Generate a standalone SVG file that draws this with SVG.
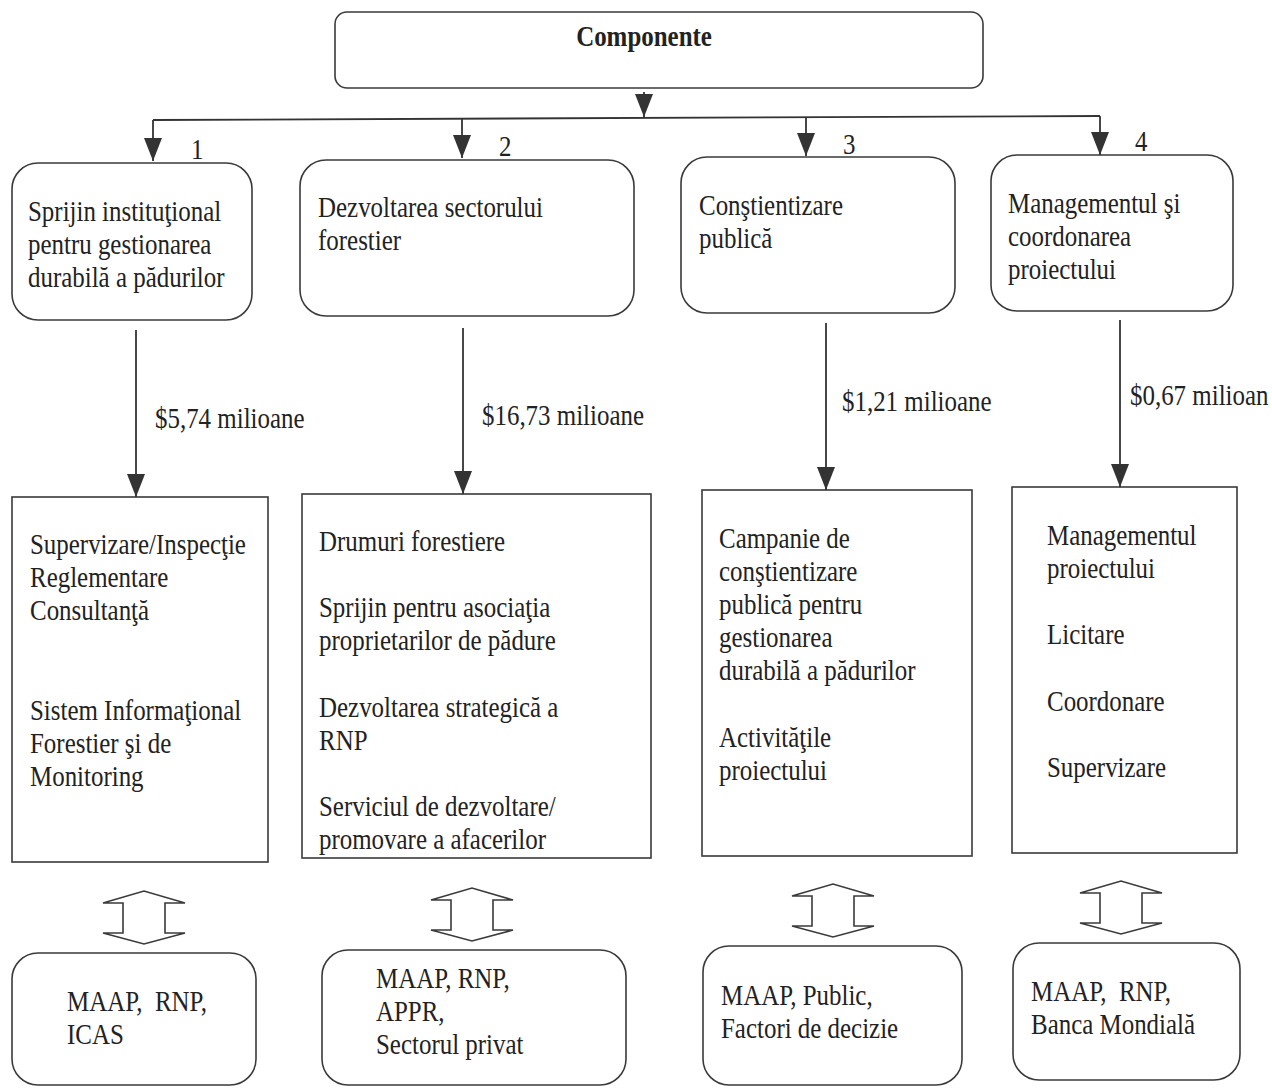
<svg xmlns="http://www.w3.org/2000/svg" xmlns:xlink="http://www.w3.org/1999/xlink" width="1272" height="1089" viewBox="0 0 1272 1089">
  <style>
    .box { fill: #ffffff; stroke: #3a3a3a; stroke-width: 1.6; }
    .ln { fill: none; stroke: #333333; stroke-width: 1.8; }
    .dbl { fill: #ffffff; stroke: #3a3a3a; stroke-width: 1.6; stroke-linejoin: miter; }
    .t { font-family: "Liberation Serif", "Times New Roman", serif; font-size: 29px; fill: #222222; }
    .b { font-weight: bold; }
  </style>
  <defs>
    <marker id="ah" markerUnits="userSpaceOnUse" markerWidth="23" markerHeight="18" refX="23" refY="9" orient="auto">
      <path d="M0,0 L23,9 L0,18 Z" fill="#333333"/>
    </marker>
    <!-- two-headed block arrow, apex at origin -->
    <path id="dbl" d="M-41,12 L0,0 L41,12 L21,12 L21,42 L41,42 L0,53 L-41,42 L-21,42 L-21,12 Z"/>
  </defs>
  <rect width="1272" height="1089" fill="#ffffff"/>

  <!-- root -->
  <g id="root">
    <rect class="box" x="335" y="12" width="648" height="76" rx="12"/>
    <text class="t b" text-anchor="middle" transform="translate(644 46) scale(.86 1)">Componente</text>
  </g>

  <!-- component headers -->
  <g id="comp1">
    <rect class="box" x="12" y="163" width="240" height="157" rx="26"/>
    <text class="t" transform="translate(28 221) scale(.86 1)"><tspan x="0" y="0">Sprijin instituţional</tspan><tspan x="0" y="33">pentru gestionarea</tspan><tspan x="0" y="66">durabilă a pădurilor</tspan></text>
  </g>
  <g id="comp2">
    <rect class="box" x="300" y="160" width="334" height="156" rx="26"/>
    <text class="t" transform="translate(318 217) scale(.86 1)"><tspan x="0" y="0">Dezvoltarea sectorului</tspan><tspan x="0" y="33">forestier</tspan></text>
  </g>
  <g id="comp3">
    <rect class="box" x="681" y="157" width="274" height="156" rx="26"/>
    <text class="t" transform="translate(699 215) scale(.86 1)"><tspan x="0" y="0">Conştientizare</tspan><tspan x="0" y="33">publică</tspan></text>
  </g>
  <g id="comp4">
    <rect class="box" x="991" y="155" width="242" height="156" rx="26"/>
    <text class="t" transform="translate(1008 213) scale(.86 1)"><tspan x="0" y="0">Managementul şi</tspan><tspan x="0" y="33">coordonarea</tspan><tspan x="0" y="66">proiectului</tspan></text>
  </g>

  <!-- activity boxes -->
  <g id="act1">
    <rect class="box" x="12" y="497" width="256" height="365"/>
    <text class="t" transform="translate(30 554) scale(.86 1)"><tspan x="0" y="0">Supervizare/Inspecţie</tspan><tspan x="0" y="33">Reglementare</tspan><tspan x="0" y="66">Consultanţă</tspan><tspan x="0" y="166">Sistem Informaţional</tspan><tspan x="0" y="199">Forestier şi de</tspan><tspan x="0" y="232">Monitoring</tspan></text>
  </g>
  <g id="act2">
    <rect class="box" x="302" y="494" width="349" height="364"/>
    <text class="t" transform="translate(319 551) scale(.86 1)"><tspan x="0" y="0">Drumuri forestiere</tspan><tspan x="0" y="66">Sprijin pentru asociaţia</tspan><tspan x="0" y="99">proprietarilor de pădure</tspan><tspan x="0" y="166">Dezvoltarea strategică a</tspan><tspan x="0" y="199">RNP</tspan><tspan x="0" y="265">Serviciul de dezvoltare/</tspan><tspan x="0" y="298">promovare a afacerilor</tspan></text>
  </g>
  <g id="act3">
    <rect class="box" x="702" y="490" width="270" height="366"/>
    <text class="t" transform="translate(719 548) scale(.86 1)"><tspan x="0" y="0">Campanie de</tspan><tspan x="0" y="33">conştientizare</tspan><tspan x="0" y="66">publică pentru</tspan><tspan x="0" y="99">gestionarea</tspan><tspan x="0" y="132">durabilă a pădurilor</tspan><tspan x="0" y="199">Activităţile</tspan><tspan x="0" y="232">proiectului</tspan></text>
  </g>
  <g id="act4">
    <rect class="box" x="1012" y="487" width="225" height="366"/>
    <text class="t" transform="translate(1047 545) scale(.86 1)"><tspan x="0" y="0">Managementul</tspan><tspan x="0" y="33">proiectului</tspan><tspan x="0" y="99">Licitare</tspan><tspan x="0" y="166">Coordonare</tspan><tspan x="0" y="232">Supervizare</tspan></text>
  </g>

  <!-- stakeholder boxes -->
  <g id="part1">
    <rect class="box" x="12" y="953" width="244" height="132" rx="26"/>
    <text class="t" xml:space="preserve" transform="translate(67 1011) scale(.86 1)"><tspan x="0" y="0">MAAP,  RNP,</tspan><tspan x="0" y="33">ICAS</tspan></text>
  </g>
  <g id="part2">
    <rect class="box" x="322" y="950" width="304" height="135" rx="26"/>
    <text class="t" transform="translate(376 988) scale(.86 1)"><tspan x="0" y="0">MAAP, RNP,</tspan><tspan x="0" y="33">APPR,</tspan><tspan x="0" y="66">Sectorul privat</tspan></text>
  </g>
  <g id="part3">
    <rect class="box" x="703" y="946" width="259" height="139" rx="26"/>
    <text class="t" transform="translate(721 1005) scale(.86 1)"><tspan x="0" y="0">MAAP, Public,</tspan><tspan x="0" y="33">Factori de decizie</tspan></text>
  </g>
  <g id="part4">
    <rect class="box" x="1013" y="943" width="227" height="137" rx="26"/>
    <text class="t" xml:space="preserve" transform="translate(1031 1001) scale(.86 1)"><tspan x="0" y="0">MAAP,  RNP,</tspan><tspan x="0" y="33">Banca Mondială</tspan></text>
  </g>

  <!-- connectors -->
  <g id="connectors">
    <line class="ln" x1="644" y1="92" x2="644" y2="117" marker-end="url(#ah)"/>
    <path class="ln" d="M153,120 L1100,116"/>
    <line class="ln" x1="153" y1="120" x2="153" y2="161" marker-end="url(#ah)"/>
    <line class="ln" x1="462" y1="119" x2="462" y2="158" marker-end="url(#ah)"/>
    <line class="ln" x1="806" y1="117" x2="806" y2="156" marker-end="url(#ah)"/>
    <line class="ln" x1="1100" y1="116" x2="1100" y2="155" marker-end="url(#ah)"/>
    <text class="t" transform="translate(191 159) scale(.86 1)">1</text>
    <text class="t" transform="translate(499 156) scale(.86 1)">2</text>
    <text class="t" transform="translate(843 154) scale(.86 1)">3</text>
    <text class="t" transform="translate(1135 151) scale(.86 1)">4</text>

    <line class="ln" x1="136" y1="330" x2="136" y2="497" marker-end="url(#ah)"/>
    <line class="ln" x1="463" y1="328" x2="463" y2="494" marker-end="url(#ah)"/>
    <line class="ln" x1="826" y1="323" x2="826" y2="490" marker-end="url(#ah)"/>
    <line class="ln" x1="1120" y1="320" x2="1120" y2="487" marker-end="url(#ah)"/>
    <text class="t" transform="translate(155 428) scale(.86 1)">$5,74 milioane</text>
    <text class="t" transform="translate(482 425) scale(.86 1)">$16,73 milioane</text>
    <text class="t" transform="translate(842 411) scale(.86 1)">$1,21 milioane</text>
    <text class="t" transform="translate(1130 405) scale(.86 1)">$0,67 milioan</text>

    <use xlink:href="#dbl" class="dbl" x="144" y="891"/>
    <use xlink:href="#dbl" class="dbl" x="472" y="888"/>
    <use xlink:href="#dbl" class="dbl" x="833" y="884"/>
    <use xlink:href="#dbl" class="dbl" x="1121" y="881"/>
  </g>
</svg>
